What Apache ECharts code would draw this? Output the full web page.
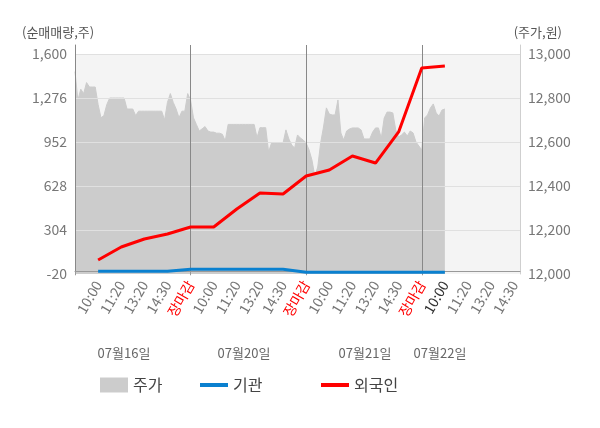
<!DOCTYPE html>
<html><head><meta charset="utf-8">
<script src="https://cdn.jsdelivr.net/npm/echarts@6/dist/echarts.min.js"></script>
<style>html,body{margin:0;padding:0;background:#fff}#c{width:600px;height:428px}</style>
</head><body><div id="c"></div>
<script>
// ---- data ----
const slotLabels = ['', '10:00','11:20','13:20','14:30','장마감',
  '10:00','11:20','13:20','14:30','장마감',
  '10:00','11:20','13:20','14:30','장마감',
  '10:00','11:20','13:20','14:30'];
const dayLabels = ['07월16일','07월20일','07월21일','07월22일'];
const leftTicks = [-20, 304, 628, 952, 1276, 1600];
const rightTicks = [12000, 12200, 12400, 12600, 12800, 13000];
// 주가 (price, 8 readings per label slot)
const price = [
 12920,12790,12840,12820,12870,12850,12850,12850,12770,12710,
 12720,12770,12800,12800,12800,12800,12800,12800,12750,12750,
 12750,12720,12740,12740,12740,12740,12740,12740,12740,12740,
 12740,12700,12780,12820,12780,12750,12710,12740,12740,12820,
 12790,12710,12680,12650,12660,12670,12650,12645,12645,12640,
 12640,12635,12605,12680,12680,12680,12680,12680,12680,12680,
 12680,12680,12680,12620,12665,12665,12665,12555,12595,12595,
 12595,12595,12595,12655,12614,12586,12573,12632,12618,12609,
 12595,12564,12518,12445,12486,12595,12668,12755,12727,12723,
 12723,12791,12641,12609,12650,12659,12664,12664,12664,12655,
 12614,12614,12614,12645,12664,12664,12618,12709,12736,12736,
 12732,12655,12623,12632,12645,12627,12650,12641,12600,12582,
 12564,12709,12723,12755,12773,12732,12718,12745,12750];
// 외국인 / 기관 cumulative net volume at label slots 1..16
const foreign = [83,179,238,275,326,326,459,576,569,702,746,849,797,1026,1497,1512];
const inst = [1,1,1,1,15,15,15,15,15,-7,-7,-7,-7,-7,-7,-7];

const SUB = 8;             // readings per label slot
const TOTAL = 155;         // category points across the axis
const dayOfSlot = s => s === 0 ? 0 : Math.min(3, Math.floor((s - 1) / 5));
const categories = [];
for (let i = 0; i < TOTAL; i++) {
  const s = Math.floor(i / SUB), j = i % SUB;
  const d = dayLabels[dayOfSlot(s)];
  categories.push(j === 0 ? d + ' ' + (slotLabels[s] || '09:00*') : d + ' ' + s + '.' + j);
}
const slotCat = k => categories[(k + 1) * SUB];

const FONT = "'Noto Sans CJK KR', 'Noto Sans', sans-serif";
const chart = echarts.init(document.getElementById('c'));
const lineIcon = 'path://M0,0H28V4H0Z';
const fmt = v => (v > 1600 && v < 2000) || v > 13000 ? '' : v.toLocaleString('en-US');
const legendBase = { top: 377, itemWidth: 28, itemHeight: 15, padding: 0,
  textStyle: { fontSize: 16, color: '#444', fontFamily: FONT } };

chart.setOption({
  animation: false,
  textStyle: { fontFamily: FONT },
  title: [
    { text: '(순매매량,주)', left: 22, top: 26, padding: 0,
      textStyle: { fontSize: 13, fontWeight: 'normal', color: '#555', fontFamily: FONT } },
    { text: '(주가,원)', right: 38, top: 26, padding: 0,
      textStyle: { fontSize: 13, fontWeight: 'normal', color: '#555', fontFamily: FONT } }
  ],
  legend: [
    Object.assign({ data: [{ name: '주가', icon: 'rect' }], left: 100 }, legendBase),
    Object.assign({ data: [{ name: '기관', icon: lineIcon }], left: 200 }, legendBase),
    Object.assign({ data: [{ name: '외국인', icon: lineIcon }], left: 321 }, legendBase)
  ],
  grid: { left: 75, right: 80, top: 45, bottom: 154 },
  xAxis: {
    type: 'category', data: categories, boundaryGap: false, z: 3,
    axisLine: { lineStyle: { color: '#999' } },
    axisTick: { interval: i => i % (SUB * 5) === 0 && i < TOTAL - 5, length: 4, lineStyle: { color: '#999' } },
    splitLine: { show: true, interval: i => i > 0 && i % (SUB * 5) === 0 && i < TOTAL - 5,
      lineStyle: { color: '#888', width: 1 } },
    axisLabel: {
      interval: i => i > 0 && i % SUB === 0, rotate: 60, margin: 8, fontSize: 14, fontFamily: FONT,
      formatter: v => { const p = v.split(' ')[1]; return slotLabels.includes(p) ? p : ''; },
      color: v => v.endsWith('장마감') ? '#ff0000' : (v === dayLabels[3] + ' 10:00' ? '#333' : '#777')
    }
  },
  yAxis: [
    { type: 'value', min: leftTicks[0], max: leftTicks[0] + (leftTicks[5] - leftTicks[0]) * 229 / 220,
      interval: leftTicks[1] - leftTicks[0], z: 3,
      axisLine: { show: true, lineStyle: { color: '#888' } }, axisTick: { show: false },
      axisLabel: { formatter: fmt, fontSize: 14, color: '#777', margin: 8, fontFamily: FONT },
      splitLine: { show: true, showMinLine: false, showMaxLine: false,
        lineStyle: { color: '#e0e0e0', width: 1 } } },
    { type: 'value', min: rightTicks[0], max: rightTicks[0] + (rightTicks[5] - rightTicks[0]) * 229 / 220,
      interval: rightTicks[1] - rightTicks[0], position: 'right', z: 3,
      axisLine: { show: true, lineStyle: { color: '#cfcfcf' } }, axisTick: { show: false },
      axisLabel: { formatter: fmt, fontSize: 14, color: '#777', margin: 8, fontFamily: FONT },
      splitLine: { show: false } }
  ],
  series: [
    { name: '주가', type: 'line', yAxisIndex: 1, data: price, showSymbol: false, symbol: 'none', z: 2,
      lineStyle: { width: 1, color: '#cccccc' }, itemStyle: { color: '#cccccc' },
      areaStyle: { color: '#cccccc', opacity: 1, origin: 'start' },
      markArea: { silent: true, z: 1, itemStyle: { color: '#f4f4f4' },
        data: [[{ yAxis: rightTicks[0] }, { yAxis: rightTicks[5] }]] } },
    { name: '기관', type: 'line', yAxisIndex: 0, z: 5, symbol: 'none', showSymbol: false, connectNulls: true,
      data: inst.map((v, k) => [slotCat(k), v]),
      lineStyle: { width: 3, color: '#0a80cf' }, itemStyle: { color: '#0a80cf' },
      markLine: { silent: true, symbol: 'none', z: 4, label: { show: false },
        lineStyle: { color: '#999', width: 1, type: 'solid' }, data: [{ yAxis: 0 }] } },
    { name: '외국인', type: 'line', yAxisIndex: 0, z: 6, symbol: 'none', showSymbol: false, connectNulls: true,
      data: foreign.map((v, k) => [slotCat(k), v]),
      lineStyle: { width: 3, color: '#ff0000' }, itemStyle: { color: '#ff0000' } }
  ],
  graphic: dayLabels.map((t, i) => ({
    type: 'text', x: [124, 244, 365, 440][i], y: 353, silent: true,
    style: { text: t, align: 'center', verticalAlign: 'middle', fontSize: 13, fontFamily: FONT, fill: '#666' }
  }))
});
</script></body></html>
